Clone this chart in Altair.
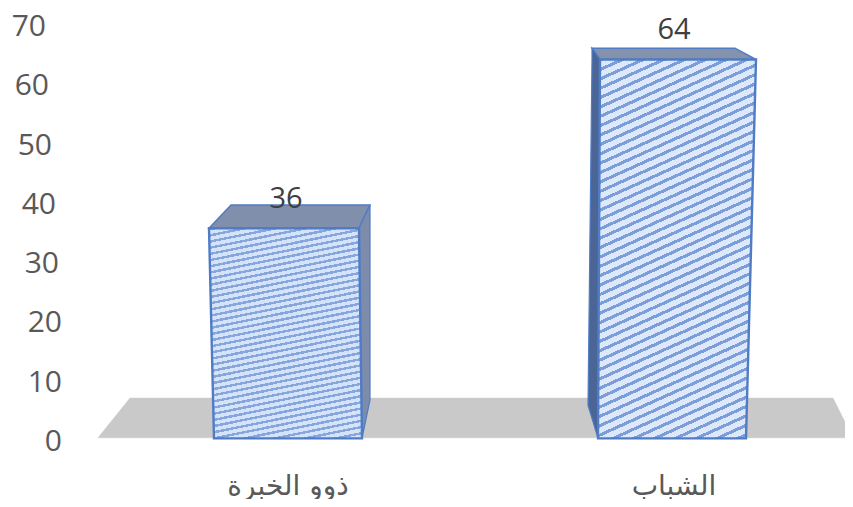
import altair as alt
import pandas as pd

categories = ["ذوو الخبرة", "الشباب"]
values = [36, 64]
tick_values = [0, 10, 20, 30, 40, 50, 60, 70]
tick_label_right = [62, 62, 62, 59, 56, 52, 49, 46]
category_centres = [288, 674]
value_label_centres = [286, 674]

WIDTH, HEIGHT = 837, 491
PER_UNIT = 5.93
ZERO_PX = 431.0
Y_DOMAIN = [(ZERO_PX - HEIGHT) / PER_UNIT, ZERO_PX / PER_UNIT]
X_DOMAIN = [8, 8 + WIDTH]

EDGE = "#4f7cc4"
x_scale = alt.Scale(domain=X_DOMAIN, nice=False, zero=False)
y_scale = alt.Scale(domain=Y_DOMAIN, nice=False, zero=False)


def stripes(n, light, dark, duty=0.45):
    stops = []
    for i in range(n):
        a = i / n
        b = (i + duty) / n
        c = (i + 1) / n
        stops += [
            {"offset": a, "color": dark},
            {"offset": b, "color": dark},
            {"offset": b, "color": light},
            {"offset": c, "color": light},
        ]
    return stops


def gradient(stops, x2, y2):
    return {"gradient": "linear", "stops": stops, "x1": 0, "y1": 0, "x2": x2, "y2": y2}


def area(rows, fill, stroke=EDGE, sw=1.5):
    df = pd.DataFrame(rows, columns=["y", "x", "x2"])
    return alt.Chart(df).mark_area(
        orient="horizontal", fill=fill, stroke=stroke, strokeWidth=sw, opacity=1,
        interpolate="linear",
    ).encode(
        y=alt.Y("y:Q", scale=y_scale, axis=None),
        x=alt.X("x:Q", scale=x_scale, axis=None),
        x2="x2:Q",
    )


v1, v2 = values
t1 = v1 - 0.45  # the tilted front face of the first bar sits a little below its value

floor = area([(6.9, 130, 833), (0.2, 98, 853)], "#c9c9c9", stroke="#c9c9c9", sw=0.5)

top1 = area([(t1 + 3.9, 231, 370), (t1, 209, 359)], "#7f8fac", sw=1.5)
side1 = area([(t1 + 3.9, 370, 370), (t1, 359, 370), (6.6, 361, 370), (0.1, 362, 362)], "#7d8cab", sw=1.2)
top2 = area([(v2 + 1.9, 592, 735), (v2, 600, 756)], "#8492ab", sw=1.5)
side2 = area([(v2 + 1.9, 592, 592), (v2, 592, 600), (5.7, 588, 598), (0.1, 598, 598)], "#4c6597", sw=1.2)

fill1 = gradient(stripes(40, "#d4e3f9", "#86a6dc", 0.4), 0.17, 1.15)
fill2 = gradient(stripes(49, "#dde9fb", "#7b9edb", 0.36), 0.22, 1.17)
front1 = area([(t1, 209, 359), (0.1, 214, 362)], fill1, sw=2.4)
front2 = area([(v2, 600, 756), (0.1, 598, 746)], fill2, sw=2.4)

tick_df = pd.DataFrame({"y": tick_values, "x": tick_label_right, "t": [str(v) for v in tick_values]})
ticks = alt.Chart(tick_df).mark_text(
    align="right", baseline="middle", font="Open Sans", fontSize=30, color="#595959", dy=3
).encode(
    x=alt.X("x:Q", scale=x_scale, axis=None),
    y=alt.Y("y:Q", scale=y_scale, axis=None),
    text="t:N",
)

val_df = pd.DataFrame({"x": value_label_centres, "y": [v1 + 4.7, v2 + 5.2], "t": [str(v) for v in values]})
val_labels = alt.Chart(val_df).mark_text(
    align="center", baseline="middle", font="Open Sans", fontSize=29, color="#404040", dy=1
).encode(
    x=alt.X("x:Q", scale=x_scale, axis=None),
    y=alt.Y("y:Q", scale=y_scale, axis=None),
    text="t:N",
)

cat_df = pd.DataFrame({"x": category_centres, "y": [-8.1, -8.1], "t": categories})
cat_labels = alt.Chart(cat_df).mark_text(
    align="center", baseline="middle", font="DejaVu Sans", fontSize=28, color="#595959"
).encode(
    x=alt.X("x:Q", scale=x_scale, axis=None),
    y=alt.Y("y:Q", scale=y_scale, axis=None),
    text="t:N",
)

chart = alt.layer(
    floor, top1, side1, top2, side2, front1, front2, ticks, val_labels, cat_labels
).properties(
    width=WIDTH, height=HEIGHT, padding=0,
    autosize=alt.AutoSizeParams(type="none"),
).configure_view(stroke=None)

chart.save("out.html", embed_options={"renderer": "svg", "actions": False})
